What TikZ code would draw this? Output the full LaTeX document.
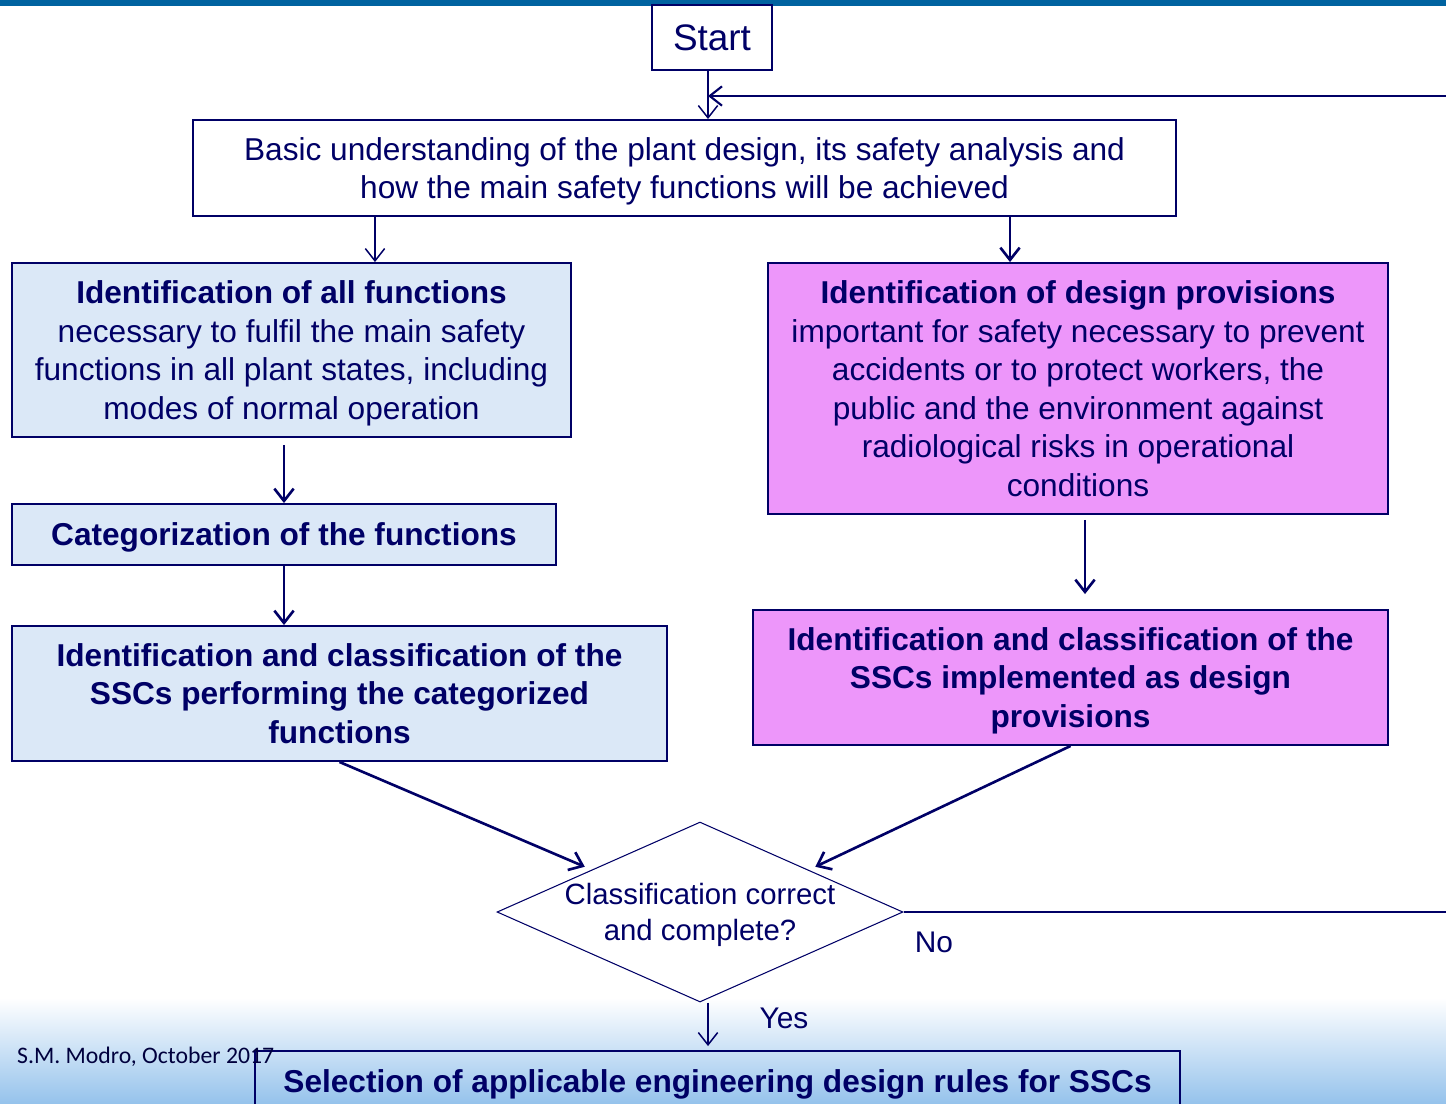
\documentclass[tikz,border=0pt]{standalone}
\usepackage{fontspec}
\setmainfont{Liberation Sans}
\newfontfamily\footfont{Carlito}
\usetikzlibrary{shapes.geometric, arrows.meta, positioning, calc}

\definecolor{inknavy}{RGB}{0, 0, 102}
\definecolor{funcblue}{RGB}{219, 232, 247}
\definecolor{provpink}{RGB}{237, 150, 250}
\definecolor{barblue}{RGB}{0, 99, 160}
\definecolor{shadeblue}{RGB}{150, 195, 236}

\tikzset{
  flowbox/.style={draw=inknavy, line width=1.1pt, text=inknavy, align=center, inner sep=0pt,
    font=\fontsize{18}{21.9}\selectfont},
  funcbox/.style={flowbox, fill=funcblue},
  provbox/.style={flowbox, fill=provpink},
  lowered/.style={text depth=0pt},
  decision/.style={diamond, draw=inknavy, line width=0.6pt, text=inknavy, align=center,
    aspect=2.26, inner sep=0pt, font=\fontsize{16.7}{20.4}\selectfont},
  flowthin/.style={draw=inknavy, line width=0.85pt, -{Straight Barb[length=7pt,width=11pt]}},
  flowthick/.style={draw=inknavy, line width=1.5pt, -{Straight Barb[length=7pt,width=11pt]}},
  answer/.style={text=inknavy, font=\fontsize{17}{20}\selectfont},
}

\begin{document}
\begin{tikzpicture}[x=0.02cm, y=-0.02cm]
  % page frame
  \useasboundingbox (0,0) rectangle (1446,1103);
  \fill[barblue] (0,0) rectangle (1446,6);
  \shade[top color=white, bottom color=shadeblue] (0,998) rectangle (1446,1103);

  % top of the flow
  \node[flowbox, minimum width=2.4cm, minimum height=1.3cm, font=\fontsize{21}{25}\selectfont] (start) at (712,37.5) {Start};
  \node[flowbox, lowered, minimum width=19.66cm, minimum height=1.92cm] (basic) at (684.5,168)
    {Basic understanding of the plant design, its safety analysis and\\how the main safety functions will be achieved};

  % left branch: functions
  \node[funcbox, lowered, minimum width=11.18cm, minimum height=3.48cm] (funcs) at (291.5,350)
    {\textbf{Identification of all functions}\\necessary to fulfil the main safety\\functions in all plant states, including\\modes of normal operation};
  \node[funcbox, lowered, minimum width=10.88cm, minimum height=1.22cm] (categ) at (284,534.5)
    {\textbf{Categorization of the functions}};
  \node[funcbox, minimum width=13.1cm, minimum height=2.7cm] (sscfunc) at (339.5,693.5)
    {\textbf{Identification and classification of the}\\\textbf{SSCs performing the categorized}\\\textbf{functions}};

  % right branch: design provisions
  \node[provbox, minimum width=12.4cm, minimum height=5.02cm] (provis) at (1078,388.5)
    {\textbf{Identification of design provisions}\\important for safety necessary to prevent\\accidents or to protect workers, the\\public and the environment against\\radiological risks in operational\\conditions};
  \node[provbox, lowered, minimum width=12.7cm, minimum height=2.7cm] (sscprov) at (1070.5,677.5)
    {\textbf{Identification and classification of the}\\\textbf{SSCs implemented as design}\\\textbf{provisions}};

  % check and result
  \node[decision, lowered, minimum width=8.12cm, minimum height=3.6cm] (check) at (700,912)
    {Classification correct\\and complete?};
  \node[flowbox, lowered, minimum width=18.5cm, minimum height=1.2cm] (select) at (717.5,1081)
    {\textbf{Selection of applicable engineering design rules for SSCs}};
  \node[answer] (no) at (934,942) {No};
  \node[answer] (yes) at (784,1018) {Yes};
  \node[anchor=west, text=inknavy!60!black, font=\footfont\fontsize{13.5}{15}\selectfont] (credit) at (11,1057)
    {S.M. Modro, October 2017};

  \coordinate (loopturn) at (1470,96);

  % connectors
  \draw[flowthin] ([xshift=-0.08cm]start.south) -- ([xshift=-0.08cm]start.south |- basic.north);
  \draw[flowthick, line width=1.2pt] (check.east) -| (loopturn) -- ([xshift=-0.08cm]start.south |- loopturn);
  \draw[flowthin] ([xshift=1.67cm]funcs.north |- basic.south) -- ([xshift=1.67cm]funcs.north);
  \draw[flowthick] ([xshift=-1.36cm]provis.north |- basic.south) -- ([xshift=-1.36cm]provis.north);
  \draw[flowthick, shorten <=0.14cm] (categ.north |- funcs.south) -- (categ.north);
  \draw[flowthick] (categ.south) -- (categ.south |- sscfunc.north);
  \draw[flowthick, shorten <=0.1cm, shorten >=0.3cm] ([xshift=0.14cm]provis.south) -- ([xshift=0.14cm]provis.south |- sscprov.north);
  \draw[flowthick] (sscfunc.south) -- ([xshift=-0.27cm]check.north west);
  \draw[flowthick] (sscprov.south) -- ([xshift=0.27cm]check.north east);
  \draw[flowthin, shorten >=0.08cm] ([xshift=0.16cm]check.south) -- ([xshift=0.16cm]check.south |- select.north);
\end{tikzpicture}
\end{document}
